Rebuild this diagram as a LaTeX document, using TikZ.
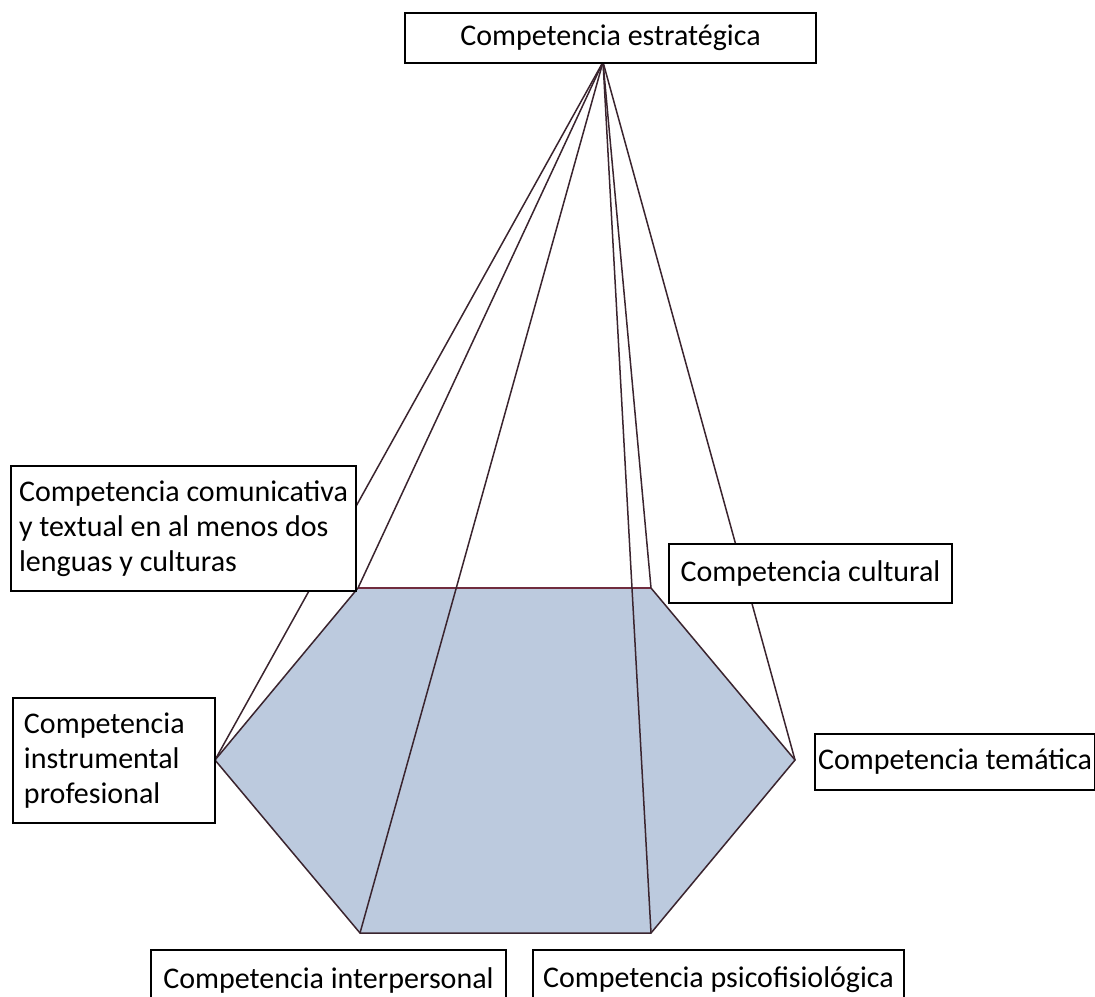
\documentclass[tikz,border=0pt]{standalone}
\usepackage{fontspec}
\setmainfont{Carlito}

\definecolor{relleno}{RGB}{188,202,222}
\definecolor{arista}{RGB}{58,36,46}
\definecolor{bordesup}{RGB}{112,44,62}

\tikzset{
    caja/.style={draw=black, line width=1pt, fill=white, inner sep=5pt, anchor=north west,
        font={\fontsize{15}{17.5}\selectfont}},
    arista/.style={draw=arista, line width=0.75pt}
}

\begin{document}
\begin{tikzpicture}[x=0.5pt, y=-0.5pt]
        \useasboundingbox (0,0) rectangle (1095,996);
        \clip (0,0) rectangle (1095,996);
        % vertices of the hexagon and the apex
        \coordinate (apex) at (603,62);
        \coordinate (hsupizq) at (358,588);
        \coordinate (hsupder) at (651,588);
        \coordinate (hder) at (795,760);
        \coordinate (hinfder) at (651,933);
        \coordinate (hinfizq) at (360,933);
        \coordinate (hizq) at (215,760);
        \fill[relleno] (hsupizq) -- (hsupder) -- (hder) -- (hinfder) -- (hinfizq) -- (hizq) -- cycle;
        \draw[arista] (hsupder) -- (hder) -- (hinfder) -- (hinfizq) -- (hizq) -- (hsupizq);
        \draw[arista, draw=bordesup] (hsupizq) -- (hsupder);
        \foreach \v in {hsupizq, hsupder, hder, hinfder, hinfizq, hizq}
            \draw[arista] (apex) -- (\v);
        % labels
        \node[caja, minimum width=205.5pt, minimum height=25pt] (estrategica) at (404,12) {Competencia estratégica};
        \node[caja, minimum width=172.5pt, minimum height=62.5pt, align=left, inner xsep=3.5pt] (comunicativa) at (10,465)
            {Competencia comunicativa\\y textual en al menos dos\\lenguas y culturas};
        \node[caja, minimum height=62.5pt, text width=90pt, align=left, inner sep=5.5pt] (instrumental) at (12,697)
            {Competencia\\instrumental\\profesional};
        \node[caja, minimum width=141.5pt, minimum height=29.5pt] (cultural) at (668,543) {Competencia cultural};
        \node[caja, minimum width=140pt, minimum height=28pt, inner xsep=1pt] (tematica) at (814,733) {Competencia temática};
        \node[caja, minimum width=177.5pt, minimum height=30pt] (interpersonal) at (150,949) {Competencia interpersonal};
        \node[caja, minimum width=185.5pt, minimum height=30pt] (psicofisiologica) at (532,949) {Competencia psicofisiológica};
    \end{tikzpicture}
\end{document}
